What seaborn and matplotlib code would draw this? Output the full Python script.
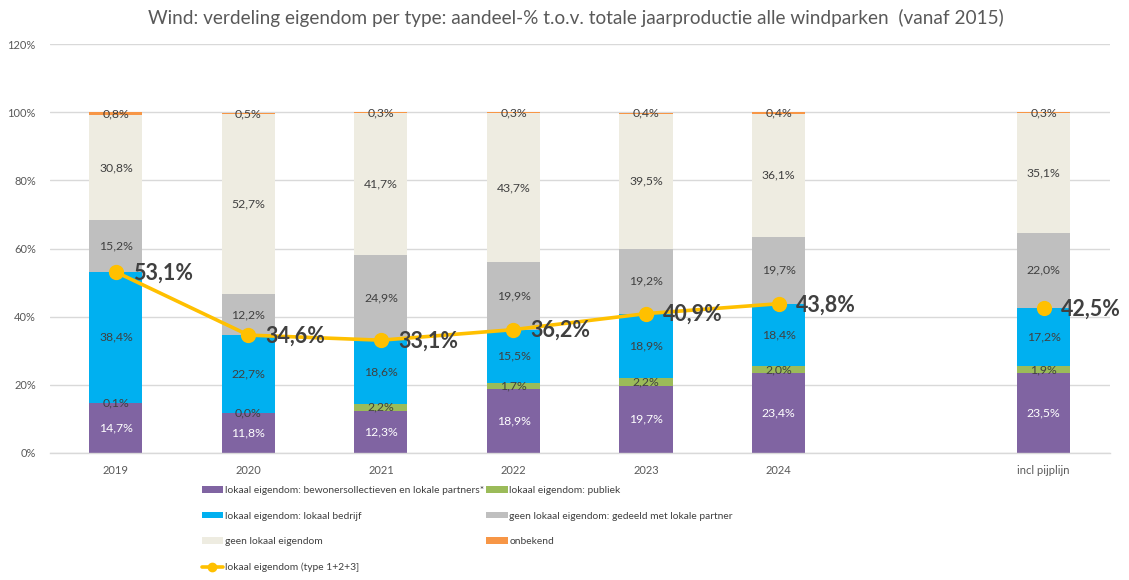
import matplotlib
matplotlib.use("Agg")
import matplotlib.pyplot as plt
import seaborn as sns
import pandas as pd
import numpy as np
from matplotlib.patches import Patch
from matplotlib.lines import Line2D

categories = ["2019", "2020", "2021", "2022", "2023", "2024", "incl pijplijn"]
positions = [0, 1, 2, 3, 4, 5, 7]

bewoners = [14.7, 11.8, 12.3, 18.9, 19.7, 23.4, 23.5]
publiek = [0.1, 0.0, 2.2, 1.7, 2.2, 2.0, 1.9]
bedrijf = [38.4, 22.7, 18.6, 15.5, 18.9, 18.4, 17.2]
gedeeld = [15.2, 12.2, 24.9, 19.9, 19.2, 19.7, 22.0]
geen = [30.8, 52.7, 41.7, 43.7, 39.5, 36.1, 35.1]
onbekend = [0.8, 0.5, 0.3, 0.3, 0.4, 0.4, 0.3]
lokaal_totaal = [53.1, 34.6, 33.1, 36.2, 40.9, 43.8, 42.5]

series_names = [
    "lokaal eigendom: bewonersollectieven en lokale partners*",
    "lokaal eigendom: publiek",
    "lokaal eigendom: lokaal bedrijf",
    "geen lokaal eigendom: gedeeld met lokale partner",
    "geen lokaal eigendom",
    "onbekend",
]
line_name = "lokaal eigendom (type 1+2+3]"
series_vals = [bewoners, publiek, bedrijf, gedeeld, geen, onbekend]
colors = ["#8064A2", "#9BBB59", "#00B0F0", "#BFBFBF", "#EEECE1", "#F79646"]
label_colors = ["white", "#404040", "#404040", "#404040", "#404040", "#404040"]
line_color = "#FFC000"

sns.set_theme(style="white")
plt.rcParams["font.family"] = ["Lato", "DejaVu Sans"]

fig = plt.figure(figsize=(11.29, 5.80), dpi=100)
ax = fig.add_axes([0.044, 0.219, 0.939, 0.705])

vals = np.array(series_vals)
cum = np.cumsum(vals, axis=0)

# draw stacked bars as overlapping cumulative bars (top layer first)
for k in range(len(series_names) - 1, -1, -1):
    df = pd.DataFrame({"pos": positions, "val": cum[k]})
    sns.barplot(data=df, x="pos", y="val", native_scale=True, color=colors[k],
                width=0.4, ax=ax, linewidth=0, saturation=1, errorbar=None,
                zorder=2)

# data labels
for k in range(len(series_names)):
    for i, p in enumerate(positions):
        v = vals[k][i]
        center = cum[k][i] - v / 2
        ax.text(p, center, f"{v:.1f}%".replace(".", ","), ha="center", va="center",
                fontsize=8.8, color=label_colors[k], zorder=5)

# line for years
df_line = pd.DataFrame({"pos": positions[:6], "val": lokaal_totaal[:6]})
sns.lineplot(data=df_line, x="pos", y="val", color=line_color, linewidth=2.6,
             marker="o", markersize=11, markeredgewidth=0, ax=ax, zorder=6)
df_pt = pd.DataFrame({"pos": positions[6:], "val": lokaal_totaal[6:]})
sns.scatterplot(data=df_pt, x="pos", y="val", color=line_color, s=120,
                linewidth=0, ax=ax, zorder=6)
for p, v in zip(positions, lokaal_totaal):
    ax.text(p + 0.13, v - 0.3, f"{v:.1f}%".replace(".", ","), ha="left", va="center",
            fontsize=15.5, fontweight="bold", color="#404040", zorder=7)

ax.set_xlim(-0.5, 7.5)
ax.set_ylim(0, 120)
ax.set_yticks(range(0, 121, 20))
ax.set_yticklabels([f"{t}%" for t in range(0, 121, 20)], fontsize=8, color="#595959")
ax.set_xticks(positions)
ax.set_xticklabels(categories, fontsize=8, color="#595959")
ax.tick_params(axis="both", length=0)
ax.tick_params(axis="x", pad=9)
ax.tick_params(axis="y", pad=10)
ax.set_xlabel("")
ax.set_ylabel("")
ax.grid(axis="y", color="#D9D9D9", linewidth=1, zorder=0)
ax.set_axisbelow(True)
for s in ["top", "right", "left"]:
    ax.spines[s].set_visible(False)
ax.spines["bottom"].set_color("#D9D9D9")
ax.spines["bottom"].set_linewidth(1)
if ax.get_legend():
    ax.get_legend().remove()

fig.suptitle("Wind: verdeling eigendom per type: aandeel-% t.o.v. totale jaarproductie alle windparken  (vanaf 2015)",
             x=0.51, y=0.985, fontsize=13.7, color="#595959")

# legend (row-major order like the reference)
patches = [Patch(facecolor=c, edgecolor="none") for c in colors]
line_handle = Line2D([], [], color=line_color, linewidth=2.6, marker="o", markersize=6)
col1 = [(patches[0], series_names[0]), (patches[2], series_names[2]),
        (patches[4], series_names[4]), (line_handle, line_name)]
col2 = [(patches[1], series_names[1]), (patches[3], series_names[3]),
        (patches[5], series_names[5])]
handles = [h for h, _ in col1] + [h for h, _ in col2]
labels = [l for _, l in col1] + [l for _, l in col2]
fig.legend(handles, labels, ncol=2, loc="upper left", bbox_to_anchor=(0.174, 0.171),
           frameon=False, fontsize=7.4, labelcolor="#404040", handlelength=2.1,
           handleheight=0.6, handletextpad=0.15, columnspacing=0.2, labelspacing=1.62,
           borderpad=0)

fig.savefig("out.png", dpi=100)
